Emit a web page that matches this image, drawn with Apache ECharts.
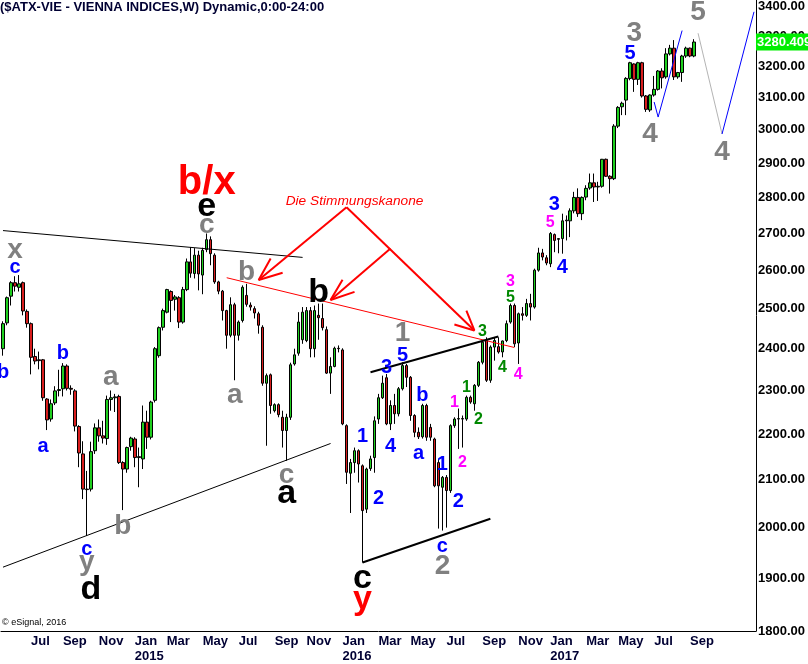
<!DOCTYPE html>
<html><head><meta charset="utf-8">
<script src="https://cdn.jsdelivr.net/npm/echarts@6/dist/echarts.min.js"></script>
<style>html,body{margin:0;padding:0;background:#fff}#c{width:808px;height:664px}</style>
</head><body><div id="c"></div>
<script>
const FONT = "'Liberation Sans', Arial, Helvetica, sans-serif";
const titleText = '($ATX-VIE - VIENNA INDICES,W) Dynamic,0:00-24:00';
const copyrightText = '\u00a9 eSignal, 2016';
const firstWeek = [2014, 4, 19]; // Monday 19 May 2014
const weekCount = 189;
const monthNames = ['Jan','Feb','Mar','Apr','May','Jun','Jul','Aug','Sep','Oct','Nov','Dec'];
const xTickMonths = ['2014-07','2014-09','2014-11','2015-01','2015-03','2015-05','2015-07','2015-09','2015-11',
  '2016-01','2016-03','2016-05','2016-07','2016-09','2016-11','2017-01','2017-03','2017-05','2017-07','2017-09'];
const yTicks = [1800,1900,2000,2100,2200,2300,2400,2500,2600,2700,2800,2900,3000,3100,3200,3300,3400];
const yMin = 1800, yMax = 3424;

// weekly candles: [open, high, low, close]
const candles2014 = [
[2400,2468,2383,2462],[2464,2531,2458,2528],[2532,2571,2508,2567],[2567,2584,2544,2558],[2555,2587,2544,2564],
[2567,2570,2483,2494],[2493,2498,2452,2462],[2462,2465,2338,2379],[2381,2400,2362,2370],[2373,2393,2350,2371],
[2373,2375,2276,2283],[2280,2282,2209,2232],[2234,2279,2228,2269],[2271,2310,2266,2299],[2300,2349,2286,2302],
[2304,2365,2286,2358],[2358,2362,2300,2305],[2305,2312,2290,2303],[2299,2303,2206,2218],[2217,2220,2127,2158],
[2156,2184,2059,2080],[2080,2119,1983,2079],[2080,2183,2075,2161],[2163,2224,2156,2214],[2214,2233,2183,2196],
[2196,2230,2179,2191],[2190,2288,2176,2279],[2279,2300,2253,2283],[2283,2292,2250,2285],[2286,2290,2134,2137],
[2137,2140,2036,2123],[2123,2172,2115,2170],[2172,2194,2163,2191]
];
const candles2015 = [
[2189,2193,2127,2148],[2148,2170,2084,2150],[2145,2265,2123,2227],[2227,2253,2167,2193],[2193,2276,2188,2273],
[2277,2404,2272,2400],[2383,2455,2378,2452],[2453,2500,2445,2495],[2491,2551,2488,2549],[2544,2547,2466,2521],
[2524,2535,2495,2530],[2528,2532,2451,2466],[2466,2556,2462,2549],[2549,2631,2545,2622],[2622,2662,2580,2592],
[2591,2659,2578,2640],[2640,2652,2547,2590],[2587,2660,2537,2653],[2655,2699,2648,2682],[2682,2691,2613,2644],
[2640,2645,2564,2569],[2569,2572,2537,2545],[2545,2548,2470,2495],[2495,2497,2400,2433],[2433,2529,2428,2510],
[2510,2515,2324,2433],[2433,2470,2420,2466],[2470,2560,2465,2555],[2534,2564,2505,2511],[2509,2516,2495,2504],
[2500,2506,2475,2489],[2487,2492,2437,2458],[2453,2458,2311,2317],[2317,2340,2174,2335],[2337,2340,2246,2265],
[2253,2270,2249,2267],[2267,2270,2238,2244],[2238,2253,2170,2208],[2208,2246,2141,2238],[2238,2366,2232,2361],
[2363,2400,2359,2385],[2389,2491,2383,2466],[2422,2504,2412,2491],[2420,2504,2416,2495],[2495,2504,2379,2400],
[2400,2508,2379,2495],[2483,2513,2422,2477],[2475,2513,2445,2452],[2447,2455,2339,2341],[2341,2379,2292,2357],
[2357,2405,2355,2401],[2401,2408,2391,2400]
];
const candles2016 = [
[2397,2401,2220,2223],[2219,2222,2091,2116],[2114,2145,2030,2137],[2137,2170,2115,2163],[2163,2166,2094,2134],
[2130,2133,1930,2035],[2038,2126,2030,2123],[2124,2152,2119,2145],[2148,2240,2115,2230],[2234,2292,2223,2283],
[2283,2335,2280,2317],[2330,2339,2220,2223],[2223,2277,2209,2265],[2265,2292,2223,2246],[2246,2308,2240,2304],
[2304,2367,2300,2359],[2359,2363,2308,2331],[2331,2334,2230,2242],[2242,2245,2193,2204],[2204,2215,2189,2194],
[2194,2269,2190,2265],[2265,2269,2185,2193],[2215,2223,2185,2193],[2189,2192,2084,2087],[2137,2145,1998,2087],
[2084,2108,1994,2105],[2105,2110,2000,2077],[2077,2222,2072,2219],[2219,2238,2214,2234],[2234,2258,2167,2235],
[2235,2242,2170,2234],[2234,2288,2230,2284],[2284,2288,2269,2273],[2269,2315,2253,2312],[2312,2370,2308,2367],
[2367,2420,2362,2416],[2420,2428,2320,2324],[2324,2408,2318,2404],[2404,2428,2371,2420],[2405,2428,2388,2392],
[2392,2420,2379,2419],[2420,2470,2416,2462],[2466,2513,2462,2508],[2508,2513,2404,2412],[2414,2490,2363,2487],
[2487,2504,2470,2483],[2483,2525,2479,2513],[2513,2538,2470,2504],[2504,2604,2500,2600],[2600,2660,2596,2646],
[2646,2657,2626,2635],[2633,2640,2613,2619]
];
const candles2017 = [
[2617,2703,2608,2699],[2696,2699,2648,2680],[2683,2686,2645,2685],[2685,2754,2644,2734],[2734,2749,2680,2736],
[2734,2769,2689,2762],[2762,2816,2755,2800],[2800,2826,2745,2754],[2754,2803,2736,2800],[2801,2835,2792,2826],
[2827,2869,2822,2842],[2842,2869,2787,2830],[2830,2845,2790,2832],[2832,2912,2828,2911],[2911,2913,2859,2861],
[2861,2864,2811,2854],[2854,3017,2850,3011],[3011,3073,3005,3069],[3071,3087,3045,3082],[3092,3165,3045,3161],
[3161,3215,3155,3212],[3208,3210,3118,3158],[3158,3215,3140,3212],[3212,3215,3100,3105],[3105,3108,3055,3063],
[3061,3110,3055,3108],[3108,3169,3103,3126],[3126,3188,3122,3185],[3185,3194,3129,3163],[3166,3260,3160,3241],
[3241,3271,3236,3260],[3260,3287,3156,3166],[3166,3182,3160,3180],[3180,3238,3150,3234],[3234,3265,3228,3260],
[3260,3262,3230,3234],[3234,3290,3230,3280.409]
];

// wave labels: [text, week index, price, style]
const annotations = [
 ['x', 3, 2652, 'gray'], ['c', 3, 2607, 'blue'], ['b', 0, 2342, 'blue'], ['b', 15, 2388, 'blue'],
 ['a', 10, 2172, 'blue'], ['a', 27, 2331, 'gray'], ['c', 21, 1955, 'blue'], ['y', 21, 1930, 'gray'],
 ['d', 22, 1877, 'black'], ['b', 30, 2002, 'gray'], ['b/x', 51, 2841, 'redXL'], ['e', 51, 2775, 'black'],
 ['c', 51, 2723, 'gray'], ['b', 61, 2594, 'gray'], ['a', 58, 2289, 'gray'], ['b', 79, 2542, 'black'],
 ['c', 71, 2110, 'gray'], ['a', 71, 2070, 'black'], ['1', 90, 2194, 'blue'], ['2', 94, 2060, 'blue'],
 ['3', 96, 2354, 'blue'], ['5', 100, 2383, 'blue'], ['1', 100, 2438, 'gray'], ['4', 97, 2172, 'blue'],
 ['b', 105, 2288, 'blue'], ['a', 104, 2156, 'blue'], ['1', 110, 2132, 'blue'], ['c', 110, 1961, 'blue'],
 ['2', 110, 1922, 'gray'], ['2', 114, 2053, 'blue'], ['1', 113, 2272, 'magenta'], ['2', 115, 2137, 'magenta'],
 ['1', 116, 2307, 'green'], ['2', 119, 2233, 'green'], ['3', 120, 2443, 'green'], ['4', 125, 2354, 'green'],
 ['4', 129, 2338, 'magenta'], ['5', 127, 2529, 'green'], ['3', 127, 2571, 'magenta'], ['c', 90, 1898, 'black'],
 ['y', 90, 1859, 'red'], ['3', 138, 2781, 'blue'], ['5', 137, 2730, 'magenta'], ['4', 140, 2607, 'blue'],
 ['3', 158, 3311, 'gray'], ['5', 157, 3241, 'blue'], ['4', 162, 2987, 'gray'], ['5', 174, 3383, 'gray'],
 ['4', 180, 2932, 'gray'], ['Die Stimmungskanone', 88, 2789, 'note']
];
const labelStyles = {
  black: { color: '#000000', size: 34, weight: 'bold' },
  red: { color: '#ff0000', size: 34, weight: 'bold' },
  redXL: { color: '#ff0000', size: 40, weight: 'bold' },
  gray: { color: '#808080', size: 28, weight: 'bold' },
  blue: { color: '#0000ff', size: 20, weight: 'bold' },
  magenta: { color: '#ff00ff', size: 16, weight: 'bold' },
  green: { color: '#008800', size: 16, weight: 'bold' },
  note: { color: '#ff0000', size: 13.7, weight: 'normal', italic: true }
};

// drawn lines: [week index, price]
const upperWedge = [[0, 2707], [75, 2634]];
const lowerWedge = [[0, 1921], [82, 2179]];
const redTrend = [[56, 2580], [128, 2403]];
const thickLower = [[90, 1930], [122, 2018]];
const thickUpper = [[92, 2343], [124, 2430]];
const bluePath1 = [[163, 3086], [164, 3039], [170, 3319]];
const grayPath = [[174, 3310], [180, 2987]];
const bluePath2 = [[180, 2987], [188, 3383]];
const arrow1 = [[86, 2772], [64, 2574]];
const arrow1Head = [[67, 2631], [64, 2574], [70, 2593]];
const arrow2 = [[86, 2772], [118, 2445]];
const arrow2Head = [[116, 2495], [118, 2445], [113, 2460]];
const arrow3 = [[97, 2658], [82, 2522]];
const arrow3Head = [[85, 2575], [82, 2522], [88, 2543]];

const weeks = [];
const t0 = Date.UTC(firstWeek[0], firstWeek[1], firstWeek[2]);
for (let i = 0; i < weekCount; i++) weeks.push(new Date(t0 + i * 7 * 86400000).toISOString().slice(0, 10));
const candles = candles2014.concat(candles2015, candles2016, candles2017);
const candleData = candles.map(r => [r[0], r[3], r[2], r[1]]);
const lastClose = candles[candles.length - 1][3];

function lineSeries(data, color, width) {
  return { type: 'line', data: data, symbol: 'none', silent: true, z: 3,
    lineStyle: { color: color, width: width, opacity: 1 }, animation: false };
}

const chart = echarts.init(document.getElementById('c'), null, { renderer: 'canvas' });
chart.setOption({
  animation: false,
  backgroundColor: '#ffffff',
  title: [
    { text: titleText, left: 0, top: 1, padding: 0,
      textStyle: { fontFamily: FONT, fontSize: 13, fontWeight: 'bold', color: '#000033' } },
    { text: copyrightText, left: 2, top: 618, padding: 0,
      textStyle: { fontFamily: FONT, fontSize: 9, fontWeight: 'normal', color: '#000000' } }
  ],
  grid: { left: 0, right: 52, top: 0, bottom: 33, containLabel: false },
  xAxis: {
    type: 'category', data: weeks, boundaryGap: true,
    axisLine: { show: true, onZero: false, lineStyle: { color: '#000', width: 1 } },
    axisTick: { show: false }, splitLine: { show: false },
    axisLabel: {
      interval: 0, align: 'left', margin: 3, lineHeight: 15,
      fontFamily: FONT, fontSize: 13, fontWeight: 'bold', color: '#000033',
      formatter: function (val) {
        const ym = val.slice(0, 7), day = +val.slice(8, 10);
        if (day <= 7 && xTickMonths.indexOf(ym) >= 0) {
          const m = +val.slice(5, 7);
          return m === 1 ? monthNames[0] + '\n' + val.slice(0, 4) : monthNames[m - 1];
        }
        return '';
      }
    }
  },
  yAxis: {
    type: 'log', logBase: 10, min: yMin, max: yMax, position: 'right', scale: true,
    axisLine: { show: true, lineStyle: { color: '#000', width: 1 } },
    axisTick: { show: false }, splitLine: { show: false },
    axisLabel: {
      customValues: yTicks, margin: 2, fontFamily: FONT, fontSize: 13, fontWeight: 'bold', color: '#000000',
      formatter: function (v) { return Number(v).toFixed(2); }
    }
  },
  series: [
    {
      type: 'candlestick', data: candleData, barWidth: 3, z: 2,
      itemStyle: { color: '#1fcf1f', color0: '#d81e1e', borderColor: '#000000', borderColor0: '#000000', borderWidth: 1 },
      markLine: {
        silent: true, symbol: 'none', animation: false, z: 10,
        lineStyle: { color: 'rgba(0,0,0,0)', width: 1, type: 'solid', opacity: 1 },
        label: { show: true, position: 'end', distance: 0, formatter: function () { return String(lastClose); },
          backgroundColor: '#00ee00', color: '#ffffff', fontFamily: FONT, fontSize: 13, fontWeight: 'bold',
          padding: [2, 1, 1, 1], lineHeight: 14, opacity: 1 },
        emphasis: { disabled: true },
        data: [{ yAxis: lastClose }]
      }
    },
    lineSeries(upperWedge, '#000000', 1),
    lineSeries(lowerWedge, '#000000', 1),
    lineSeries(redTrend, '#ff0000', 1),
    lineSeries(thickLower, '#000000', 2),
    lineSeries(thickUpper, '#000000', 2),
    lineSeries(bluePath1, '#0000ff', 1),
    lineSeries(grayPath, '#b4b4b4', 1),
    lineSeries(bluePath2, '#0000ff', 1),
    lineSeries(arrow1, '#ff0000', 2), lineSeries(arrow1Head, '#ff0000', 2),
    lineSeries(arrow2, '#ff0000', 2), lineSeries(arrow2Head, '#ff0000', 2),
    lineSeries(arrow3, '#ff0000', 2), lineSeries(arrow3Head, '#ff0000', 2),
    {
      type: 'scatter', z: 6, silent: true, symbolSize: 1, clip: false,
      itemStyle: { color: 'rgba(0,0,0,0)', opacity: 1 },
      label: { show: true, position: 'inside', fontFamily: FONT, opacity: 1 },
      data: annotations.map(function (a) {
        const st = labelStyles[a[3]];
        return { value: [a[1], a[2]], label: { formatter: a[0], color: st.color, fontSize: st.size,
          fontWeight: st.weight, fontStyle: st.italic ? 'italic' : 'normal' } };
      })
    }
  ]
});
</script>
</body></html>
